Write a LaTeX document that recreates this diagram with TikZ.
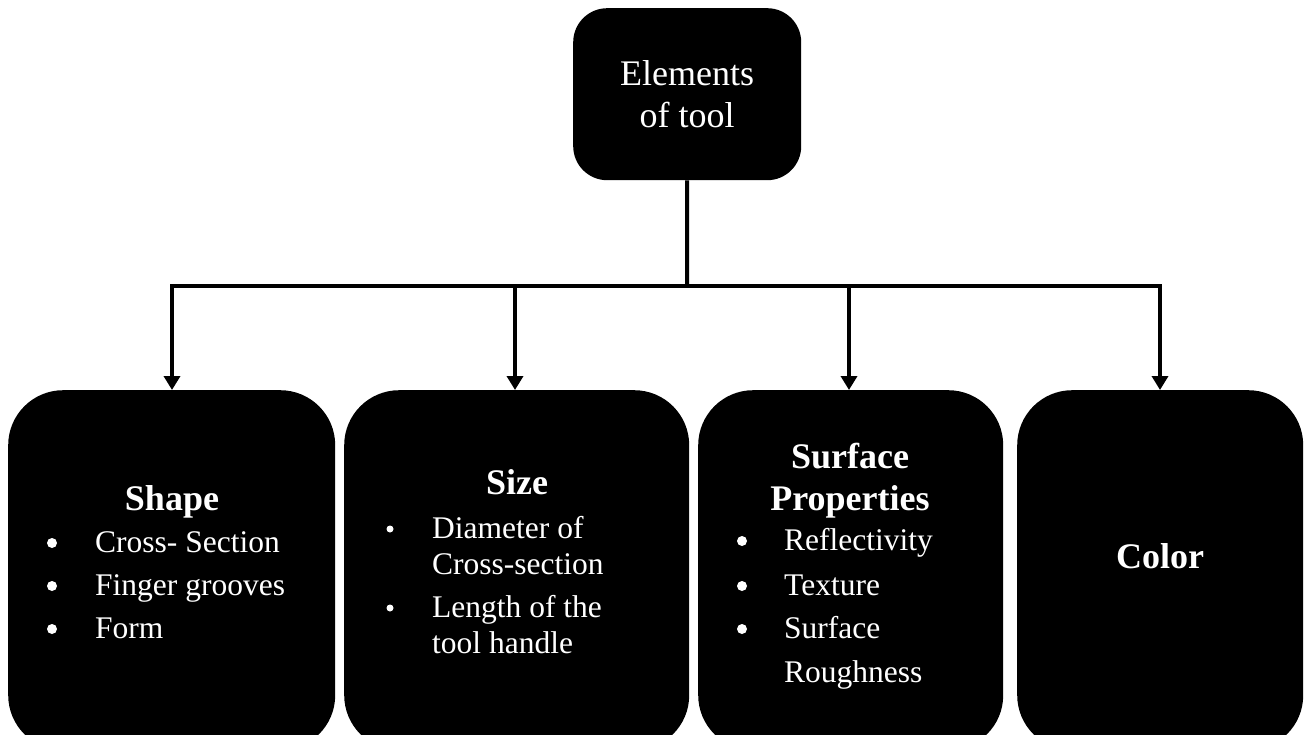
\documentclass[tikz,border=0pt]{standalone}
\usepackage{fontspec}
\setmainfont{Liberation Serif}
\usetikzlibrary{arrows.meta}

\begin{document}
\begin{tikzpicture}[x=1pt,y=-1pt,
  box/.style={fill=black, draw=none, rounded corners=55pt, inner sep=0pt, anchor=north west},
  topbox/.style={fill=black, draw=none, rounded corners=34pt, inner sep=0pt, anchor=north west},
  head/.style={text=white, inner sep=0pt, anchor=base, font=\fontsize{36}{42}\selectfont\bfseries},
  item/.style={text=white, inner sep=0pt, anchor=base west, font=\fontsize{31.5}{43}\selectfont},
  dot/.style={circle, fill=white, draw=none, inner sep=0pt, minimum size=10pt},
  smalldot/.style={dot, minimum size=7pt},
  link/.style={line width=4pt},
  arrowlink/.style={line width=4pt, -{Triangle[width=16pt,length=14pt]}}
]
\useasboundingbox (0,0) rectangle (1305,735);

% root
\node[topbox, minimum width=228pt, minimum height=172pt] (root) at (573,8) {};
\node[text=white, inner sep=0pt, anchor=base, font=\fontsize{36}{42}\selectfont] (roota) at (687,86) {Elements};
\node[text=white, inner sep=0pt, anchor=base, font=\fontsize{36}{42}\selectfont] (rootb) at (687,128) {of tool};

% category boxes
\node[box, minimum width=327pt, minimum height=360pt] (shape)   at (8,390) {};
\node[box, minimum width=345pt, minimum height=360pt] (size)    at (344,390) {};
\node[box, minimum width=305pt, minimum height=360pt] (surface) at (698,390) {};
\node[box, minimum width=286pt, minimum height=360pt] (color)   at (1017,390) {};

% connectors
\coordinate (hub) at (687,286);
\draw[link] (root.south) -- (hub);
\coordinate (t1) at (172,390);
\coordinate (t2) at (515,390);
\coordinate (t3) at (849,390);
\coordinate (t4) at (1160,390);
\draw[arrowlink] (hub) -| (t1);
\draw[arrowlink] (hub) -| (t2);
\draw[arrowlink] (hub) -| (t3);
\draw[arrowlink] (hub) -| (t4);

% Shape
\node[head] (shapeh) at (172,510) {Shape};
\node[dot] (sd1) at (52,543) {};
\node[dot] (sd2) at (52,586) {};
\node[dot] (sd3) at (52,629) {};
\node[item] (s1) at (95,552) {Cross- Section};
\node[item] (s2) at (95,595) {Finger grooves};
\node[item] (s3) at (95,638) {Form};

% Size
\node[head] (sizeh) at (517,494) {Size};
\node[smalldot] (zd1) at (390,529) {};
\node[smalldot] (zd2) at (390,608) {};
\node[item] (z1) at (432,538) {Diameter of};
\node[item] (z2) at (432,574) {Cross-section};
\node[item] (z3) at (432,617) {Length of the};
\node[item] (z4) at (432,653) {tool handle};

% Surface properties
\node[head] (surfh1) at (850,468) {Surface};
\node[head] (surfh2) at (850,510) {Properties};
\node[dot] (fd1) at (742,541) {};
\node[dot] (fd2) at (742,586) {};
\node[dot] (fd3) at (742,629) {};
\node[item] (f1) at (784,550) {Reflectivity};
\node[item] (f2) at (784,595) {Texture};
\node[item] (f3) at (784,638) {Surface};
\node[item] (f4) at (784,682) {Roughness};

% Color
\node[head] (colorh) at (1160,568) {Color};
\end{tikzpicture}
\end{document}
